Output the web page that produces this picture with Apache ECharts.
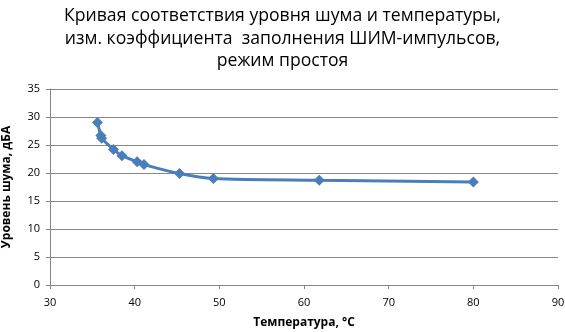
<!DOCTYPE html>
<html><head><meta charset="utf-8">
<script src="https://cdn.jsdelivr.net/npm/echarts@6/dist/echarts.min.js"></script>
<style>html,body{margin:0;padding:0;background:#fff}#c{width:565px;height:332px}</style>
</head><body><div id="c"></div>
<script>
var temperature = [35.6, 36.0, 36.1, 37.5, 38.5, 40.3, 41.1, 45.3, 49.3, 61.8, 80.0];
var noise = [29.0, 26.7, 26.2, 24.2, 23.1, 22.0, 21.5, 19.9, 19.0, 18.7, 18.4];
var titleLines = ['Кривая соответствия уровня шума и температуры,', 'изм. коэффициента  заполнения ШИМ-импульсов,', 'режим простоя'];
var xName = 'Температура, °С';
var yName = 'Уровень шума, дБА';

var chart = echarts.init(document.getElementById('c'));
var pts = temperature.map(function(t, i){ return [t, noise[i]]; });
var font = 'Open Sans, Noto Sans, sans-serif';
chart.setOption({
  animation: false,
  title: {
    text: titleLines.join('\n'), left: 'center', top: 0,
    textStyle: {fontFamily: font, fontWeight: 'normal', fontSize: 17.6, lineHeight: 22.5, color: '#000'}
  },
  grid: {left: 50, right: 7, top: 89, bottom: 47, containLabel: false, outerBoundsMode: 'none'},
  xAxis: {
    type: 'value', min: 30, max: 90, interval: 10,
    name: xName, nameLocation: 'middle', nameGap: 32,
    nameTextStyle: {fontFamily: font, fontWeight: 'bold', fontSize: 12, color: '#000'},
    axisLine: {show: true, lineStyle: {color: '#868686'}},
    axisTick: {show: true, inside: false, length: 4, lineStyle: {color: '#868686'}},
    axisLabel: {fontFamily: font, fontSize: 11, color: '#000', margin: 12},
    splitLine: {show: false}
  },
  yAxis: {
    type: 'value', min: 0, max: 35, interval: 5,
    name: yName, nameLocation: 'middle', nameGap: 37, nameRotate: 90,
    nameTextStyle: {fontFamily: font, fontWeight: 'bold', fontSize: 12, color: '#000'},
    axisLine: {show: true, lineStyle: {color: '#868686'}},
    axisTick: {show: true, length: 4, lineStyle: {color: '#868686'}},
    axisLabel: {fontFamily: font, fontSize: 11, color: '#000', margin: 10},
    splitLine: {show: true, lineStyle: {color: '#868686', width: 1}}
  },
  series: [{
    type: 'line', data: pts, smooth: 0.3,
    symbol: 'diamond', symbolSize: 11,
    lineStyle: {color: '#4a7ebb', width: 3},
    itemStyle: {color: '#4a7ebb'}
  }]
});
</script></body></html>
